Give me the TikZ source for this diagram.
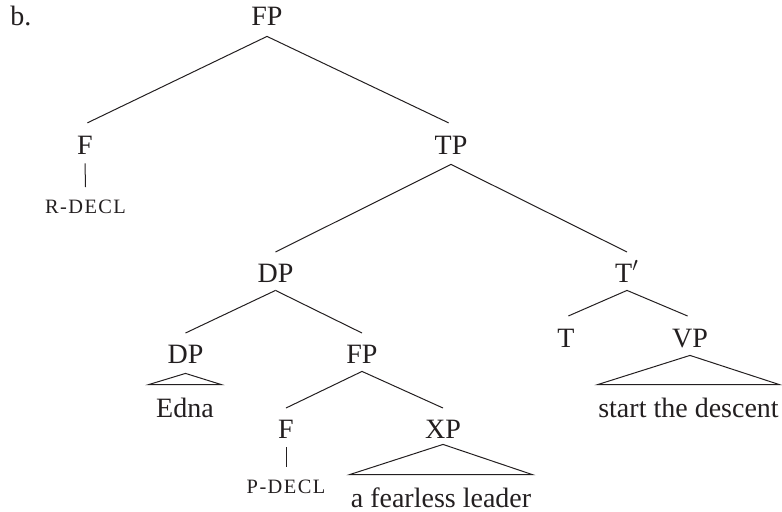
\documentclass[tikz,border=0pt]{standalone}
\usepackage{fontspec}
\setmainfont{Liberation Serif}
\newfontfamily\scfont[LetterSpace=7]{Liberation Serif}
\definecolor{ink}{HTML}{231F20}
\begin{document}
\begin{tikzpicture}[x=0.5pt,y=-0.5pt,
  every node/.style={text=ink},
  cat/.style={anchor=base, font=\fontsize{14}{16}\selectfont, inner xsep=0pt,
    inner ysep=4pt, text height=10.8pt, text depth=0pt},
  leaf/.style={anchor=base, font=\fontsize{14}{16}\selectfont, inner sep=0pt,
    text height=16pt, text depth=0pt},
  feat/.style={anchor=base, font=\scfont\fontsize{10.2}{12}\selectfont, inner sep=0pt,
    text height=12.8pt, text depth=0pt},
  branch/.style={draw=ink, line width=0.5pt}]
\useasboundingbox (0,0) rectangle (782,511);

% example label
\node[anchor=base west, font=\fontsize{14}{16}\selectfont, inner sep=0pt] (lbl) at (10,25) {b.};

% categories
\node[cat] (FP)   at (267,25)    {FP};
\node[cat] (F)    at (85,154)    {F};
\node[feat] (Rdecl) at (85.5,213) {R-DECL};
\node[cat] (TP)   at (451,154)   {TP};
\node[cat] (DP)   at (275.5,282) {DP};
\node[cat] (Tbar) at (627,282)   {T$'$};
\node[cat] (DPb)  at (185.5,363) {DP};
\node[leaf, minimum width=36pt] (Edna) at (185,417) {Edna};
\node[cat] (FPb)  at (362,363)   {FP};
\node[cat] (Fb)   at (286,438)   {F};
\node[feat] (Pdecl) at (286,493) {P-DECL};
\node[cat] (XP)   at (443,438)   {XP};
\node[leaf, minimum width=91pt] (afl) at (441,507) {a fearless leader};
\node[cat] (T)    at (566,347)   {T};
\node[cat] (VP)   at (690,347)   {VP};
\node[leaf, minimum width=90.5pt] (std) at (688.5,417) {start the descent};

% branches
\draw[branch, shorten >=1.3pt] ([yshift=-1.5pt]FP.south) -- (F.north);
\draw[branch, shorten >=1.3pt] ([yshift=-1.5pt]FP.south) -- (TP.north);
\draw[branch] ([yshift=-1pt]TP.south) -- (DP.north);
\draw[branch] ([yshift=-1pt]TP.south) -- (Tbar.north);
\draw[branch] (DP.south) -- (DPb.north);
\draw[branch] (DP.south) -- (FPb.north);
\draw[branch] (FPb.south) -- (Fb.north);
\draw[branch] (FPb.south) -- (XP.north);
\draw[branch, shorten >=1.3pt] (Tbar.south) -- (T.north);
\draw[branch, shorten >=1.3pt] (Tbar.south) -- (VP.north);
\draw[branch, shorten <=0.5pt] (F.south) -- (Rdecl.north);
\draw[branch, shorten <=0.5pt] (Fb.south) -- (Pdecl.north);

% roofs over unanalysed constituents
\draw[branch] ([yshift=-1pt]DPb.south) -- (Edna.north west) -- (Edna.north east) -- cycle;
\draw[branch] (VP.south) -- (std.north west) -- (std.north east) -- cycle;
\draw[branch] ([yshift=1pt]XP.south) -- (afl.north west) -- (afl.north east) -- cycle;
\end{tikzpicture}
\end{document}
